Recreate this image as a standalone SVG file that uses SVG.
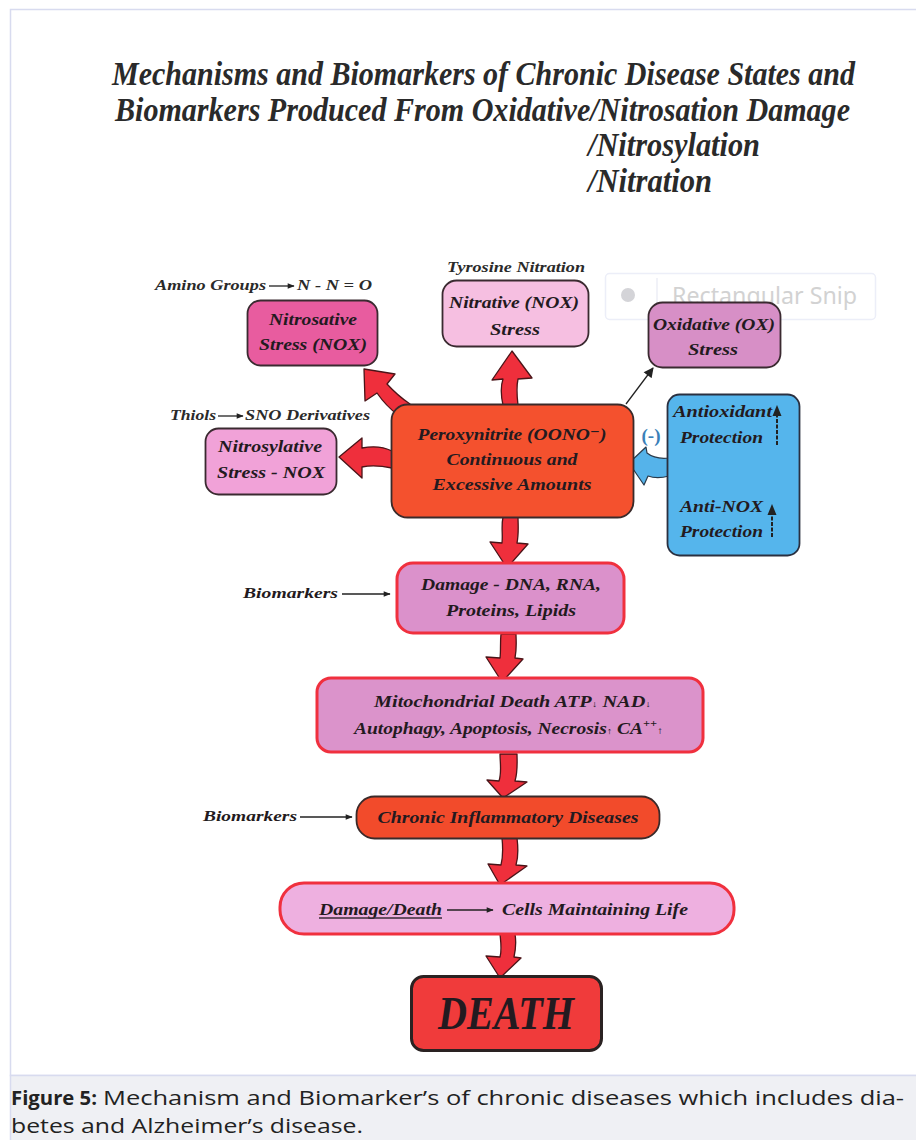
<svg xmlns="http://www.w3.org/2000/svg" width="916" height="1140" viewBox="0 0 916 1140">
<defs>
<style>
.t{font-family:"Liberation Serif","DejaVu Serif",serif;font-weight:bold;font-style:italic;fill:#231a20}
.title{font-size:29px;fill:#2a2a2a}
.lbl{font-size:15px;fill:#2a2a2a}
.box{font-size:17px;text-anchor:middle}
.fat{fill:#ef2f3c;stroke:#4a1418;stroke-width:1.3;stroke-linejoin:round}
.thin{stroke:#222;stroke-width:1.3;fill:none}
.cap{font-family:"Open Sans","Noto Sans","Liberation Sans",sans-serif;font-size:20px;fill:#222}
</style>
<marker id="ah" viewBox="0 0 10 10" refX="9" refY="5" markerWidth="8" markerHeight="7" markerUnits="userSpaceOnUse" orient="auto">
<path d="M0,1 L10,5 L0,9 Z" fill="#222"/>
</marker>
<marker id="ah2" viewBox="0 0 10 10" refX="9" refY="5" markerWidth="11" markerHeight="10" markerUnits="userSpaceOnUse" orient="auto">
<path d="M0,0 L10,5 L0,10 Z" fill="#222"/>
</marker>
</defs>
<rect x="0" y="0" width="916" height="1140" fill="#ffffff"/>
<rect x="10.5" y="9.5" width="920" height="1066" fill="#ffffff" stroke="#d8dbef" stroke-width="1.5"/>
<rect x="10.5" y="1075.5" width="920" height="70" fill="#eff0f4" stroke="#d8dbef" stroke-width="1.5"/>

<g id="title">
<g transform="translate(0,85) scale(1,1.14)"><text class="t title" x="112" y="0" textLength="743" lengthAdjust="spacingAndGlyphs">Mechanisms and Biomarkers of Chronic Disease States and</text></g>
<g transform="translate(0,121) scale(1,1.14)"><text class="t title" x="115" y="0" textLength="735" lengthAdjust="spacingAndGlyphs">Biomarkers Produced From Oxidative/Nitrosation Damage</text></g>
<g transform="translate(0,156) scale(1,1.14)"><text class="t title" x="588" y="0" textLength="172" lengthAdjust="spacingAndGlyphs">/Nitrosylation</text></g>
<g transform="translate(0,192) scale(1,1.14)"><text class="t title" x="588" y="0" textLength="124" lengthAdjust="spacingAndGlyphs">/Nitration</text></g>
</g>

<g id="snip-artifact">
<rect x="605.5" y="273.5" width="270" height="46" rx="4" fill="#ffffff" stroke="#eceef8" stroke-width="1.5"/>
<circle cx="628" cy="295" r="7" fill="#d4d4d8"/>
<line x1="657" y1="278" x2="657" y2="315" stroke="#eceef6" stroke-width="1.5"/>
<text x="672" y="304" font-family="'Noto Sans','Open Sans',sans-serif" font-size="24" fill="#d2d2d2" textLength="185" lengthAdjust="spacingAndGlyphs">Rectangular Snip</text>
</g>

<g id="connectors">
<path class="fat" d="M398,415 Q386,406 377,393 L365,401 L364,369 L395,374 L387,384 Q398,396 410,404 Z"/>
<path class="fat" d="M503,405 C501,396 500,388 503,379 L492,380 L512,351 L532,378 L518,379 C516,388 517,396 518,405 Z"/>
<path class="fat" d="M392,451 C382,446 372,446 362,448 L362,438 L339,457 L362,478 L362,467 C372,465 382,466 392,468 Z"/>
<path class="fat" d="M503,517 C501,526 503,535 502,543 L490,542 L507,568 L528,544 L517,543 C519,533 518,524 518,517 Z"/>
<path class="fat" d="M501,634 C500,643 501,650 500,658 L486,657 L502,682 L523,659 L515,658 C517,648 516,640 516,634 Z"/>
<path class="fat" d="M500,754 C500,763 502,772 499,781 L487,780 L503,798 L527,782 L515,781 C518,771 517,760 517,754 Z"/>
<path class="fat" d="M502,838 C503,848 503,857 501,865 L488,864 L500,885 L527,866 L516,865 C519,855 518,846 517,838 Z"/>
<path class="fat" d="M500,934 C501,944 502,950 500,957 L486,956 L500,978 L521,958 L514,957 C516,948 516,940 515,934 Z"/>
<path d="M669,458 C660,459 652,457 647,453 L646,447 L629,463 L644,485 L648,476 C656,479 662,478 669,476 Z" fill="#55b3ea" stroke="#2a3a4a" stroke-width="1.2" stroke-linejoin="round"/>
<line class="thin" x1="626" y1="404" x2="653" y2="368" marker-end="url(#ah2)"/>
<line class="thin" x1="269" y1="286" x2="294" y2="286" marker-end="url(#ah)"/>
<line class="thin" x1="218" y1="416" x2="243" y2="416" marker-end="url(#ah)"/>
<line class="thin" x1="342" y1="594" x2="390" y2="594" marker-end="url(#ah)"/>
<line class="thin" x1="300" y1="817" x2="352" y2="817" marker-end="url(#ah)"/>
</g>

<g id="amino-label"><text class="t lbl" x="155" y="290" textLength="111" lengthAdjust="spacingAndGlyphs">Amino Groups</text><text class="t lbl" x="297" y="290" textLength="75" lengthAdjust="spacingAndGlyphs">N - N = O</text></g>
<g id="tyrosine-label"><text class="t lbl" x="447" y="272" textLength="138" lengthAdjust="spacingAndGlyphs">Tyrosine Nitration</text></g>
<g id="thiols-label"><text class="t lbl" x="170" y="420" textLength="46" lengthAdjust="spacingAndGlyphs">Thiols</text><text class="t lbl" x="245" y="420" textLength="125" lengthAdjust="spacingAndGlyphs">SNO Derivatives</text></g>

<g id="nitrosative">
<rect x="247.5" y="300.5" width="130" height="65" rx="13" fill="#e85c9f" stroke="#3a2a30" stroke-width="1.8"/>
<text class="t box" x="313" y="325" textLength="88" lengthAdjust="spacingAndGlyphs">Nitrosative</text>
<text class="t box" x="313" y="350" textLength="108" lengthAdjust="spacingAndGlyphs">Stress (NOX)</text>
</g>
<g id="nitrative">
<rect x="442.5" y="280.5" width="146" height="66" rx="14" fill="#f6bfe1" stroke="#3a2a30" stroke-width="1.8"/>
<text class="t box" x="514" y="308" textLength="130" lengthAdjust="spacingAndGlyphs">Nitrative (NOX)</text>
<text class="t box" x="515" y="335" textLength="50" lengthAdjust="spacingAndGlyphs">Stress</text>
</g>
<g id="oxidative">
<rect x="648.5" y="302.5" width="132" height="65" rx="14" fill="#d78fc6" stroke="#3a2a30" stroke-width="1.8"/>
<text class="t box" x="714" y="330" textLength="122" lengthAdjust="spacingAndGlyphs">Oxidative (OX)</text>
<text class="t box" x="713" y="355" textLength="50" lengthAdjust="spacingAndGlyphs">Stress</text>
</g>
<g id="nitrosylative">
<rect x="205.5" y="428.5" width="131" height="66" rx="13" fill="#f1a2d8" stroke="#3a2a30" stroke-width="1.8"/>
<text class="t box" x="270" y="452" textLength="104" lengthAdjust="spacingAndGlyphs">Nitrosylative</text>
<text class="t box" x="271" y="478" textLength="108" lengthAdjust="spacingAndGlyphs">Stress - NOX</text>
</g>
<g id="peroxynitrite">
<rect x="391.5" y="404.5" width="242" height="113" rx="16" fill="#f4512e" stroke="#3a2a2a" stroke-width="1.8"/>
<text class="t box" x="512" y="440" textLength="189" lengthAdjust="spacingAndGlyphs">Peroxynitrite (OONO⁻)</text>
<text class="t box" x="512" y="465" textLength="131" lengthAdjust="spacingAndGlyphs">Continuous and</text>
<text class="t box" x="512" y="490" textLength="159" lengthAdjust="spacingAndGlyphs">Excessive Amounts</text>
</g>
<g id="protection">
<rect x="667.5" y="394.5" width="132" height="161" rx="12" fill="#55b5ec" stroke="#2a3040" stroke-width="1.8"/>
<text class="t" font-size="16" x="673" y="417" textLength="99" lengthAdjust="spacingAndGlyphs">Antioxidant</text>
<text class="t" font-size="16" x="680" y="443" textLength="83" lengthAdjust="spacingAndGlyphs">Protection</text>
<text class="t" font-size="16" x="680" y="512" textLength="83" lengthAdjust="spacingAndGlyphs">Anti-NOX</text>
<text class="t" font-size="16" x="680" y="537" textLength="83" lengthAdjust="spacingAndGlyphs">Protection</text>
<line x1="777" y1="445" x2="777" y2="414" stroke="#222" stroke-width="2" stroke-dasharray="4,1.5"/>
<path d="M772.5,416 L777,405 L781.5,416 Z" fill="#222"/>
<line x1="772" y1="537" x2="772" y2="513" stroke="#222" stroke-width="2" stroke-dasharray="4,1.5"/>
<path d="M767.5,515 L772,504 L776.5,515 Z" fill="#222"/>
</g>
<g id="inhibit-label"><text x="651" y="442" font-family="'Liberation Serif',serif" font-weight="bold" font-size="19" fill="#3a80b8" text-anchor="middle">(-)</text></g>

<g id="biomarkers-1"><text class="t" font-size="15" x="243" y="598" textLength="95" lengthAdjust="spacingAndGlyphs">Biomarkers</text></g>
<g id="damage">
<rect x="397" y="563" width="227" height="70" rx="16" fill="#db91cb" stroke="#f0303e" stroke-width="3"/>
<text class="t box" x="511" y="590" textLength="180" lengthAdjust="spacingAndGlyphs">Damage - DNA, RNA,</text>
<text class="t box" x="511" y="616" textLength="130" lengthAdjust="spacingAndGlyphs">Proteins, Lipids</text>
</g>
<g id="mitochondrial">
<rect x="317" y="678" width="386" height="74" rx="14" fill="#db93cb" stroke="#f0303e" stroke-width="3"/>
<text class="t" font-size="16" x="374" y="707" textLength="277" lengthAdjust="spacingAndGlyphs">Mitochondrial Death  ATP<tspan font-size="9">↓</tspan> NAD<tspan font-size="9">↓</tspan></text>
<text class="t" font-size="16" x="354" y="734" textLength="309" lengthAdjust="spacingAndGlyphs">Autophagy, Apoptosis, Necrosis<tspan font-size="9">↑</tspan> CA<tspan font-size="10" dy="-7">++</tspan><tspan font-size="10" dy="7">↑</tspan></text>
</g>
<g id="biomarkers-2"><text class="t" font-size="15" x="203" y="821" textLength="94" lengthAdjust="spacingAndGlyphs">Biomarkers</text></g>
<g id="chronic">
<rect x="356.5" y="796.5" width="303" height="42" rx="18" fill="#f24b2b" stroke="#3a2a2a" stroke-width="1.8"/>
<text class="t box" x="508" y="823" textLength="261" lengthAdjust="spacingAndGlyphs">Chronic Inflammatory Diseases</text>
</g>
<g id="cells">
<rect x="280" y="883" width="454" height="51" rx="24" fill="#eeb0e0" stroke="#f0303e" stroke-width="3"/>
<text class="t" font-size="17" x="319" y="915" fill="#3a2c38" textLength="123" lengthAdjust="spacingAndGlyphs">Damage/Death</text>
<line x1="319" y1="918" x2="442" y2="918" stroke="#3a2c38" stroke-width="1.3"/>
<line class="thin" x1="447" y1="910" x2="493" y2="910" marker-end="url(#ah)"/>
<text class="t" font-size="17" x="502" y="915" fill="#3a2c38" textLength="186" lengthAdjust="spacingAndGlyphs">Cells Maintaining Life</text>
</g>
<g id="death">
<rect x="411.5" y="976.5" width="190" height="74" rx="12" fill="#f03b3b" stroke="#2a2222" stroke-width="3"/>
<text class="t" font-size="47" x="506" y="1029" text-anchor="middle" textLength="136" lengthAdjust="spacingAndGlyphs">DEATH</text>
</g>

<g id="caption">
<text class="cap" x="11" y="1105" font-weight="bold" textLength="86" lengthAdjust="spacingAndGlyphs">Figure 5:</text>
<text class="cap" x="103" y="1105" textLength="801" lengthAdjust="spacingAndGlyphs">Mechanism and Biomarker’s of chronic diseases which includes dia-</text>
<text class="cap" x="11" y="1133" textLength="352" lengthAdjust="spacingAndGlyphs">betes and Alzheimer’s disease.</text>
</g>
</svg>
